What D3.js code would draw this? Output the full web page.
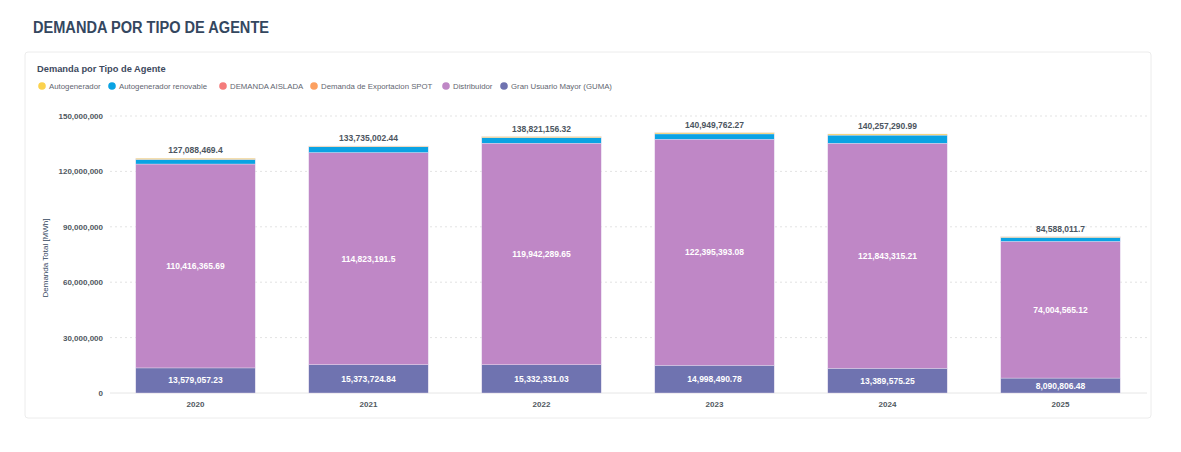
<!DOCTYPE html>
<html><head><meta charset="utf-8">
<script src="https://cdn.jsdelivr.net/npm/d3@7/dist/d3.min.js"></script>
<style>
body{margin:0;background:#fff;font-family:"Liberation Sans",Arial,sans-serif;}
</style></head><body>
<svg id="c" width="1181" height="452"></svg>
<script>
const years = ["2020","2021","2022","2023","2024","2025"];
const autogenerador = [600000, 420000, 560000, 650000, 600000, 350000];
const autogeneradorRenovable = [2493046.48, 3118086.1, 2986535.64, 2905878.41, 4424400.53, 2142640.1];
const demandaAislada = [0,0,0,0,0,0];
const exportacionSpot = [0,0,0,0,0,0];
const distribuidor = [110416365.69, 114823191.5, 119942289.65, 122395393.08, 121843315.21, 74004565.12];
const guma = [13579057.23, 15373724.84, 15332331.03, 14998490.78, 13389575.25, 8090806.48];
const totals = [127088469.4, 133735002.44, 138821156.32, 140949762.27, 140257290.99, 84588011.7];
const yTicks = [0, 30000000, 60000000, 90000000, 120000000, 150000000];

const seriesNames = ["Autogenerador","Autogenerador renovable","DEMANDA AISLADA","Demanda de Exportacion SPOT","Distribuidor","Gran Usuario Mayor (GUMA)"];
const seriesColors = ["#fbd24e","#0aa3e3","#f47c7c","#fca060","#bf87c6","#6f73b0"];
const seriesVals = [autogenerador, autogeneradorRenovable, demandaAislada, exportacionSpot, distribuidor, guma];

const svg = d3.select("#c");
// page title
svg.append("text").attr("x",33).attr("y",33).text("DEMANDA POR TIPO DE AGENTE")
  .attr("font-size",16).attr("font-weight","bold").attr("fill","#34475f")
  .attr("textLength",236).attr("lengthAdjust","spacingAndGlyphs");
// card
svg.append("rect").attr("x",25).attr("y",52).attr("width",1126).attr("height",366).attr("rx",3)
  .attr("fill","#fff").attr("stroke","#ececec").attr("stroke-width",1);
svg.append("text").attr("x",37).attr("y",72).text("Demanda por Tipo de Agente")
  .attr("font-size",9.3).attr("font-weight","bold").attr("fill","#3e4a5e");

// legend
const legendX = [38, 108, 219, 310, 442, 500];
seriesNames.forEach((n,i)=>{
  const g = svg.append("g").attr("transform",`translate(${legendX[i]},86)`);
  g.append("circle").attr("cx",4).attr("cy",0).attr("r",3.8).attr("fill",seriesColors[i]);
  g.append("text").attr("x",11).attr("y",3).text(n).attr("font-size",7.8).attr("fill","#5f6670");
});

const x = d3.scaleBand().domain(years).range([109,1147]).paddingInner(0.31).paddingOuter(0.155);
const y = d3.scaleLinear().domain([0,150000000]).range([393,116]);

// grid
svg.append("g").selectAll("line").data(yTicks.filter(t=>t>0)).join("line")
  .attr("x1",110).attr("x2",1147).attr("y1",d=>y(d)).attr("y2",d=>y(d))
  .attr("stroke","#e3e3e3").attr("stroke-dasharray","2,3");
svg.append("line").attr("x1",110).attr("x2",1147).attr("y1",y(0)).attr("y2",y(0)).attr("stroke","#e6e6e6");

// y axis
const yAxis = d3.axisLeft(y).tickValues(yTicks).tickFormat(d3.format(",")).tickSize(0).tickPadding(0);
const ya = svg.append("g").attr("transform","translate(103,0)").call(yAxis);
ya.select(".domain").remove();
ya.selectAll("text").attr("font-size",8).attr("font-weight","bold").attr("fill","#505860").attr("dy","0.32em").attr("font-family","Liberation Sans, Arial");

svg.append("text").attr("transform","translate(48,258) rotate(-90)").attr("text-anchor","middle")
  .text("Demanda Total  [MWh]").attr("font-size",8).attr("fill","#34475f");

// x axis
const xAxis = d3.axisBottom(x).tickSize(0).tickPadding(0);
const xa = svg.append("g").attr("transform",`translate(0,${y(0)+11})`).call(xAxis);
xa.select(".domain").remove();
xa.selectAll("text").attr("font-size",8).attr("font-weight","bold").attr("fill","#505860").attr("dy","0.32em").attr("font-family","Liberation Sans, Arial");

// stack (bottom: GUMA, Distribuidor, Exportacion, Aislada, Renovable, Autogenerador)
const order = [5,4,3,2,1,0];
const table = years.map((yr,j)=>{ const o={year:yr}; seriesNames.forEach((n,i)=>o[n]=seriesVals[i][j]); return o;});
const stack = d3.stack().keys(order.map(i=>seriesNames[i]))(table);
const fmt = v => d3.format(",")(Math.round(v*100)/100);

stack.forEach(layer=>{
  const ci = seriesNames.indexOf(layer.key);
  svg.append("g").selectAll("rect").data(layer).join("rect")
    .attr("x",d=>x(d.data.year)).attr("width",x.bandwidth())
    .attr("y",d=>y(d[1])).attr("height",d=>Math.max(0,y(d[0])-y(d[1])))
    .attr("fill",seriesColors[ci]).attr("stroke","#e8dcef").attr("stroke-width",0.4);
  if (layer.key==="Distribuidor" || layer.key==="Gran Usuario Mayor (GUMA)") {
    svg.append("g").selectAll("text").data(layer).join("text")
      .attr("x",d=>x(d.data.year)+x.bandwidth()/2).attr("y",d=>(y(d[0])+y(d[1]))/2+3)
      .attr("text-anchor","middle").text(d=>fmt(d[1]-d[0]))
      .attr("font-size",8.5).attr("font-weight","bold").attr("fill","#fff");
  }
});

// totals
svg.append("g").selectAll("text").data(years).join("text")
  .attr("x",d=>x(d)+x.bandwidth()/2).attr("y",(d,i)=>y(totals[i])-5)
  .attr("text-anchor","middle").text((d,i)=>fmt(totals[i]))
  .attr("font-size",8.5).attr("font-weight","bold").attr("fill","#4c5560");
</script>
</body></html>
